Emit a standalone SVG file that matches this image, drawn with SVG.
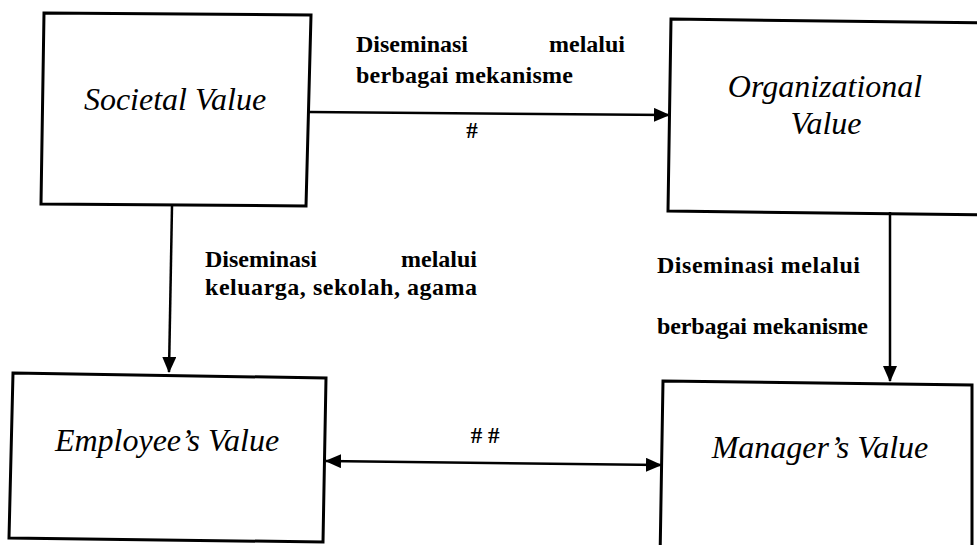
<svg xmlns="http://www.w3.org/2000/svg" width="977" height="545" viewBox="0 0 977 545">
  <defs>
    <marker id="head" viewBox="0 0 16 14" refX="15" refY="7" markerWidth="16" markerHeight="14" markerUnits="userSpaceOnUse" orient="auto-start-reverse">
      <path d="M0,0 L16,7 L0,14 Z" fill="#000"/>
    </marker>
  </defs>
  <style>
    .box { fill: #fff; stroke: #000; stroke-width: 3; stroke-linejoin: miter; }
    .name { font-family: "Liberation Serif", "Times New Roman", serif; font-style: italic; font-size: 32px; fill: #000; text-anchor: middle; }
    .note { font-family: "Liberation Serif", "Times New Roman", serif; font-weight: bold; font-size: 24px; fill: #000; }
    .mark { font-family: "Liberation Serif", "Times New Roman", serif; font-weight: bold; font-size: 23px; fill: #000; text-anchor: middle; }
    .link { fill: none; stroke: #000; stroke-width: 2.5; }
  </style>
  <rect width="977" height="545" fill="#fff"/>

  <g id="societal">
    <polygon class="box" points="44,13 311,15 306,206 41,204"/>
    <text class="name" x="175" y="110">Societal Value</text>
  </g>

  <g id="organizational">
    <polygon class="box" points="671,19 990,23 990,215 668,211"/>
    <text class="name" x="825" y="97">Organizational</text>
    <text class="name" x="826" y="134">Value</text>
  </g>

  <g id="employee">
    <polygon class="box" points="13,373 326,378 323,542 9,538"/>
    <text class="name" x="167" y="451">Employee’s Value</text>
  </g>

  <g id="manager">
    <polygon class="box" points="663,381 972,385 972,560 660,560"/>
    <text class="name" x="820" y="458">Manager’s Value</text>
  </g>

  <g id="connectors">
    <line class="link" x1="309" y1="112" x2="669" y2="115" marker-end="url(#head)"/>
    <line class="link" x1="172" y1="206" x2="169" y2="372" marker-end="url(#head)"/>
    <line class="link" x1="890" y1="212" x2="890" y2="381" marker-end="url(#head)"/>
    <line class="link" x1="326" y1="461" x2="661" y2="465" marker-start="url(#head)" marker-end="url(#head)"/>

    <text class="note" x="356" y="52">Diseminasi</text>
    <text class="note" x="625" y="52" text-anchor="end">melalui</text>
    <text class="note" x="356" y="83" textLength="217" lengthAdjust="spacing">berbagai mekanisme</text>
    <text class="mark" x="472" y="138">#</text>

    <text class="note" x="205" y="267">Diseminasi</text>
    <text class="note" x="477" y="267" text-anchor="end">melalui</text>
    <text class="note" x="205" y="295" textLength="272" lengthAdjust="spacing">keluarga, sekolah, agama</text>

    <text class="note" x="657" y="273" textLength="203" lengthAdjust="spacing">Diseminasi melalui</text>
    <text class="note" x="657" y="334" textLength="211" lengthAdjust="spacing">berbagai mekanisme</text>

    <text class="mark" x="485" y="443"># #</text>
  </g>
</svg>
